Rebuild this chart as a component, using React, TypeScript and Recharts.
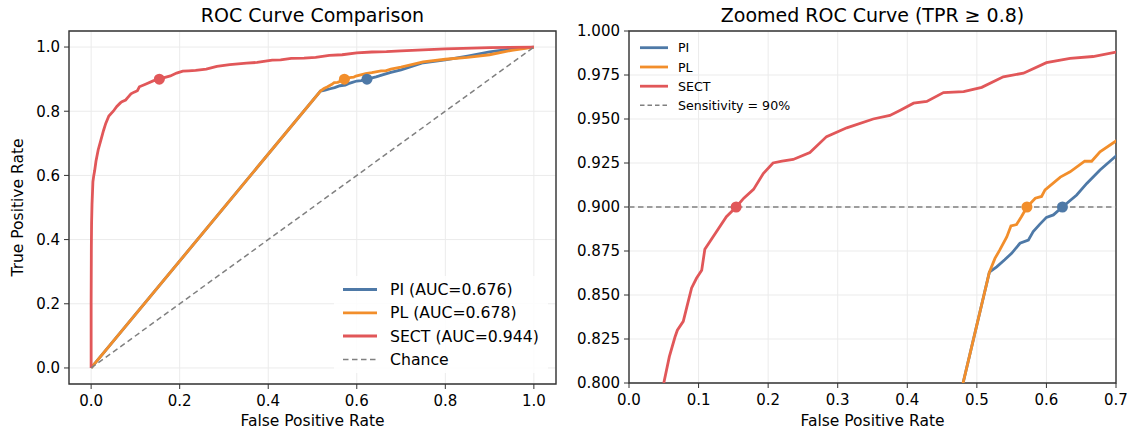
import React from "react";
import {
  LineChart,
  Line,
  XAxis,
  YAxis,
  CartesianGrid,
  ReferenceLine,
  ReferenceDot,
  ReferenceArea,
} from "recharts";

// ---------- data ----------
const PI_FPR = [0, 0.518, 0.5285, 0.54, 0.55, 0.562, 0.574, 0.581, 0.59, 0.6, 0.61, 0.623, 0.6435, 0.658, 0.677, 0.7, 0.75, 0.8, 0.85, 0.9, 0.95, 1];
const PI_TPR = [0, 0.863, 0.866, 0.87, 0.8737, 0.8794, 0.8812, 0.886, 0.89, 0.8941, 0.8955, 0.9, 0.9068, 0.9134, 0.921, 0.929, 0.951, 0.96, 0.972, 0.985, 0.994, 1];

const PL_FPR = [0, 0.518, 0.526, 0.533, 0.543, 0.549, 0.557, 0.564, 0.572, 0.584, 0.593, 0.598, 0.62, 0.634, 0.655, 0.665, 0.677, 0.7, 0.75, 0.8, 0.85, 0.9, 0.95, 1];
const PL_TPR = [0, 0.863, 0.8708, 0.8756, 0.883, 0.8892, 0.89, 0.8945, 0.9, 0.905, 0.906, 0.9097, 0.917, 0.92, 0.926, 0.926, 0.9314, 0.9375, 0.954, 0.962, 0.968, 0.976, 0.99, 1];

const SECT_FPR = [0, 0, 0.0005, 0.001, 0.002, 0.004, 0.006, 0.008, 0.011, 0.016, 0.022, 0.028, 0.033, 0.04, 0.05, 0.058, 0.066, 0.0695, 0.078, 0.083, 0.09, 0.097, 0.1045, 0.109, 0.124, 0.14, 0.154, 0.165, 0.179, 0.193, 0.207, 0.22, 0.236, 0.26, 0.284, 0.313, 0.351, 0.375, 0.39, 0.409, 0.428, 0.452, 0.481, 0.507, 0.538, 0.567, 0.6, 0.634, 0.667, 0.7, 0.75, 0.8, 0.9, 1];
const SECT_TPR = [0, 0.2, 0.38, 0.45, 0.51, 0.58, 0.6, 0.615, 0.645, 0.68, 0.71, 0.74, 0.762, 0.785, 0.8, 0.815, 0.826, 0.83, 0.835, 0.843, 0.854, 0.8595, 0.864, 0.876, 0.885, 0.8945, 0.9, 0.905, 0.91, 0.919, 0.925, 0.926, 0.927, 0.931, 0.94, 0.945, 0.95, 0.952, 0.955, 0.959, 0.96, 0.965, 0.9655, 0.968, 0.974, 0.976, 0.982, 0.9845, 0.9855, 0.988, 0.991, 0.994, 0.998, 1];

const CHANCE_FPR = [0, 1];
const CHANCE_TPR = [0, 1];

const SERIES_NAMES = ["PI", "PL", "SECT"];
const AUC_VALUES = ["0.676", "0.678", "0.944"];
const SERIES_COLORS = ["#4e79a7", "#f28e2b", "#e15759"];
const THRESH_FPR = [0.623, 0.572, 0.154];
const THRESH_TPR = [0.9, 0.9, 0.9];
const SENSITIVITY = 0.9;

const LEFT_TICKS = [0, 0.2, 0.4, 0.6, 0.8, 1.0];
const RIGHT_X_TICKS = [0, 0.1, 0.2, 0.3, 0.4, 0.5, 0.6, 0.7];
const RIGHT_Y_TICKS = [0.8, 0.825, 0.85, 0.875, 0.9, 0.925, 0.95, 0.975, 1.0];

const zip = (xs: number[], ys: number[]) => xs.map((x, i) => ({ x, y: ys[i] }));
const SERIES_DATA = [zip(PI_FPR, PI_TPR), zip(PL_FPR, PL_TPR), zip(SECT_FPR, SECT_TPR)];
const CHANCE_DATA = zip(CHANCE_FPR, CHANCE_TPR);

// ---------- style ----------
const FONT = "'DejaVu Sans', sans-serif";
const TICK_STYLE = { fontSize: 15, fill: "#000", fontFamily: FONT };
const GRID = "#ebebeb";
const FRAME = "#333";
const GRAY = "#808080";
const LW = 2.8;

const H = 431;

function renderLines() {
  return SERIES_DATA.map((d, i) => (
    <Line
      key={SERIES_NAMES[i]}
      data={d}
      dataKey="y"
      type="linear"
      stroke={SERIES_COLORS[i]}
      strokeWidth={LW}
      dot={false}
      activeDot={false}
      isAnimationActive={false}
    />
  ));
}

function renderDots() {
  return THRESH_FPR.map((fx, i) => (
    <ReferenceDot
      key={"d" + i}
      x={fx}
      y={THRESH_TPR[i]}
      r={5.5}
      fill={SERIES_COLORS[i]}
      stroke={SERIES_COLORS[i]}
      strokeWidth={0}
    />
  ));
}

function LeftChart() {
  return (
    <LineChart width={560} height={H} margin={{ top: 31, right: 4, bottom: 0, left: 0 }}>
      <CartesianGrid stroke={GRID} strokeWidth={1} />
      <XAxis
        type="number"
        dataKey="x"
        domain={[-0.05, 1.05]}
        ticks={LEFT_TICKS}
        allowDataOverflow
        tickFormatter={(v: number) => v.toFixed(1)}
        tick={TICK_STYLE}
        tickSize={5}
        tickMargin={6}
        height={47}
        stroke={FRAME}
        axisLine={false}
      />
      <YAxis
        type="number"
        dataKey="y"
        domain={[-0.05, 1.05]}
        ticks={LEFT_TICKS}
        allowDataOverflow
        tickFormatter={(v: number) => v.toFixed(1)}
        tick={TICK_STYLE}
        tickSize={5}
        tickMargin={4}
        width={69}
        stroke={FRAME}
        axisLine={false}
      />
      {renderLines()}
      <Line
        data={CHANCE_DATA}
        dataKey="y"
        type="linear"
        stroke={GRAY}
        strokeWidth={1.5}
        strokeDasharray="5.5 3.5"
        dot={false}
        activeDot={false}
        isAnimationActive={false}
      />
      {renderDots()}
      <ReferenceArea
        x1={-0.05}
        x2={1.05}
        y1={-0.05}
        y2={1.05}
        fill="none"
        fillOpacity={0}
        stroke={FRAME}
        strokeWidth={1.4}
      />
    </LineChart>
  );
}

function RightChart() {
  return (
    <LineChart width={569} height={H} margin={{ top: 31, right: 13, bottom: 0, left: 0 }}>
      <CartesianGrid stroke={GRID} strokeWidth={1} />
      <XAxis
        type="number"
        dataKey="x"
        domain={[0, 0.7]}
        ticks={RIGHT_X_TICKS}
        allowDataOverflow
        tickFormatter={(v: number) => v.toFixed(1)}
        tick={TICK_STYLE}
        tickSize={5}
        tickMargin={6}
        height={48}
        stroke={FRAME}
        axisLine={false}
      />
      <YAxis
        type="number"
        dataKey="y"
        domain={[0.8, 1.0]}
        ticks={RIGHT_Y_TICKS}
        allowDataOverflow
        tickFormatter={(v: number) => v.toFixed(3)}
        tick={TICK_STYLE}
        tickSize={5}
        tickMargin={4}
        width={69}
        stroke={FRAME}
        axisLine={false}
      />
      {renderLines()}
      <ReferenceLine
        y={SENSITIVITY}
        stroke={GRAY}
        strokeWidth={1.5}
        strokeDasharray="5.5 3.5"
      />
      {renderDots()}
      <ReferenceArea
        x1={0}
        x2={0.7}
        y1={0.8}
        y2={1.0}
        fill="none"
        fillOpacity={0}
        stroke={FRAME}
        strokeWidth={1.4}
      />
    </LineChart>
  );
}

function Overlay() {
  const leftLegend = [
    ...SERIES_NAMES.map((n, i) => ({ label: `${n} (AUC=${AUC_VALUES[i]})`, color: SERIES_COLORS[i], dash: false })),
    { label: "Chance", color: GRAY, dash: true },
  ];
  const rightLegend = [
    ...SERIES_NAMES.map((n, i) => ({ label: n, color: SERIES_COLORS[i], dash: false })),
    { label: "Sensitivity = 90%", color: GRAY, dash: true },
  ];
  const leftRows = [289.5, 312.8, 336, 359.5];
  const rightRows = [47.7, 67, 86.2, 105.3];
  return (
    <svg
      width={1129}
      height={H}
      style={{ position: "absolute", left: 0, top: 0, pointerEvents: "none" }}
      fontFamily={FONT}
    >
      <text x={312.5} y={22} textAnchor="middle" fontSize={19} fill="#000">
        ROC Curve Comparison
      </text>
      <text x={872.5} y={22} textAnchor="middle" fontSize={19} fill="#000">
        Zoomed ROC Curve (TPR ≥ 0.8)
      </text>
      <text x={312.5} y={426} textAnchor="middle" fontSize={15.5} fill="#000">
        False Positive Rate
      </text>
      <text x={872.5} y={426} textAnchor="middle" fontSize={15.5} fill="#000">
        False Positive Rate
      </text>
      <text
        transform="translate(23,207.5) rotate(-90)"
        textAnchor="middle"
        fontSize={15.5}
        fill="#000"
      >
        True Positive Rate
      </text>
      {/* left legend */}
      <rect x={334} y={276} width={214} height={97} fill="#fff" fillOpacity={0.85} />
      {leftLegend.map((e, i) => (
        <g key={"ll" + i}>
          <line
            x1={343}
            x2={377}
            y1={leftRows[i]}
            y2={leftRows[i]}
            stroke={e.color}
            strokeWidth={e.dash ? 1.5 : LW}
            strokeDasharray={e.dash ? "5.5 3.5" : undefined}
          />
          <text x={390} y={leftRows[i]} dy="0.36em" fontSize={15.7} fill="#000">
            {e.label}
          </text>
        </g>
      ))}
      {/* right legend */}
      {rightLegend.map((e, i) => (
        <g key={"rl" + i}>
          <line
            x1={640}
            x2={668}
            y1={rightRows[i]}
            y2={rightRows[i]}
            stroke={e.color}
            strokeWidth={e.dash ? 1.5 : LW}
            strokeDasharray={e.dash ? "4.5 3" : undefined}
          />
          <text x={678} y={rightRows[i]} dy="0.36em" fontSize={12.6} fill="#000">
            {e.label}
          </text>
        </g>
      ))}
    </svg>
  );
}

export default function App() {
  return (
    <div
      style={{
        position: "absolute",
        left: 0,
        top: 0,
        width: 1129,
        height: H,
        background: "#fff",
        fontFamily: FONT,
      }}
    >
      <div style={{ position: "absolute", left: 0, top: 0 }}>
        <LeftChart />
      </div>
      <div style={{ position: "absolute", left: 560, top: 0 }}>
        <RightChart />
      </div>
      <Overlay />
    </div>
  );
}
